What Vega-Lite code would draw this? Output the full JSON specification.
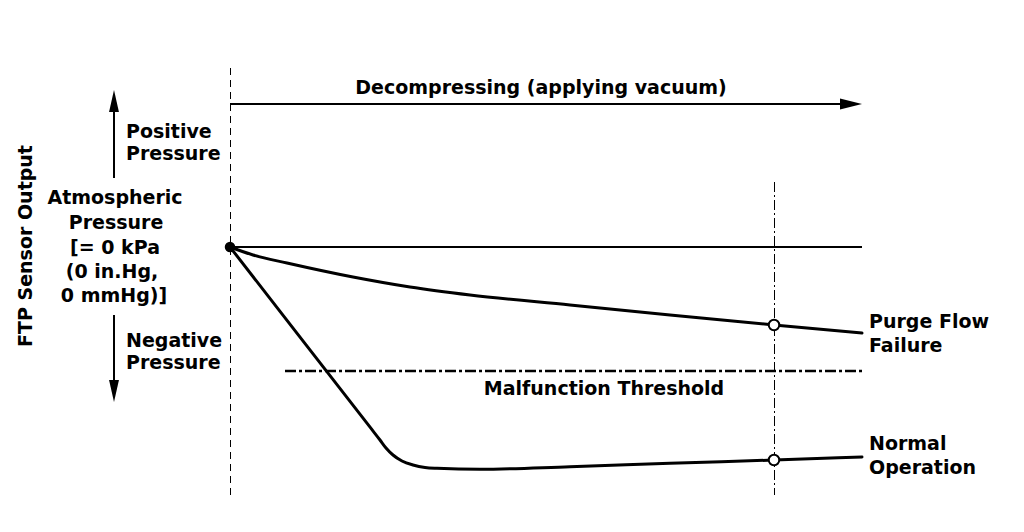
{
  "$schema": "https://vega.github.io/schema/vega-lite/v6.json",
  "width": 1024,
  "height": 532,
  "padding": 0,
  "autosize": {"type": "fit", "contains": "padding"},
  "background": "white",
  "config": {"view": {"stroke": null}},
  "datasets": {
    "curves": [
      {"series": "Purge Flow Failure", "x": 0, "y": 0},
      {"series": "Purge Flow Failure", "x": 2.3, "y": -0.8},
      {"series": "Purge Flow Failure", "x": 5.7, "y": -1.6},
      {"series": "Purge Flow Failure", "x": 12.3, "y": -3.0},
      {"series": "Purge Flow Failure", "x": 18, "y": -4.0},
      {"series": "Purge Flow Failure", "x": 24, "y": -4.8},
      {"series": "Purge Flow Failure", "x": 34, "y": -5.8},
      {"series": "Purge Flow Failure", "x": 44, "y": -6.8},
      {"series": "Purge Flow Failure", "x": 54.4, "y": -7.8},
      {"series": "Purge Flow Failure", "x": 63.2, "y": -8.6},
      {"series": "Normal Operation", "x": 0, "y": 0},
      {"series": "Normal Operation", "x": 5, "y": -6.43},
      {"series": "Normal Operation", "x": 10, "y": -12.87},
      {"series": "Normal Operation", "x": 14.2, "y": -18.27},
      {"series": "Normal Operation", "x": 15, "y": -19.3},
      {"series": "Normal Operation", "x": 15.6, "y": -20.1},
      {"series": "Normal Operation", "x": 16.3, "y": -20.8},
      {"series": "Normal Operation", "x": 17.2, "y": -21.4},
      {"series": "Normal Operation", "x": 18.3, "y": -21.8},
      {"series": "Normal Operation", "x": 19.5, "y": -22.05},
      {"series": "Normal Operation", "x": 20.7, "y": -22.13},
      {"series": "Normal Operation", "x": 25, "y": -22.23},
      {"series": "Normal Operation", "x": 34, "y": -21.97},
      {"series": "Normal Operation", "x": 44, "y": -21.63},
      {"series": "Normal Operation", "x": 54.4, "y": -21.3},
      {"series": "Normal Operation", "x": 63.2, "y": -21.0}
    ],
    "solidRules": [
      {"name": "atmospheric", "x": 0, "x2": 63.2, "y": 0, "y2": 0},
      {"name": "time arrow", "x": 0, "x2": 61, "y": 14.3, "y2": 14.3},
      {"name": "positive arrow", "x": -11.6, "x2": -11.6, "y": 6.9, "y2": 14.0},
      {"name": "negative arrow", "x": -11.6, "x2": -11.6, "y": -6.8, "y2": -14.2}
    ],
    "startRule": [
      {"name": "start", "x": 0.05, "x2": 0.05, "y": 17.9, "y2": -24.8}
    ],
    "checkRule": [
      {"name": "check", "x": 54.45, "x2": 54.45, "y": 6.5, "y2": -24.8}
    ],
    "threshold": [
      {"name": "Malfunction Threshold", "x": 5.5, "x2": 63.2, "y": -12.4, "y2": -12.4}
    ],
    "rightHead": [{"x": 62.1, "y": 14.3}],
    "upHead": [{"x": -11.6, "y": 14.6}],
    "downHead": [{"x": -11.6, "y": -14.4}],
    "startDot": [{"x": 0, "y": 0}],
    "checkDots": [
      {"series": "Purge Flow Failure", "x": 54.4, "y": -7.8},
      {"series": "Normal Operation", "x": 54.4, "y": -21.3}
    ],
    "centerText": [
      {"label": "Decompressing (applying vacuum)", "x": 31.1, "y": 15.9},
      {"label": "Atmospheric", "x": -11.5, "y": 4.9},
      {"label": "Pressure", "x": -11.4, "y": 2.4},
      {"label": "[= 0 kPa", "x": -11.5, "y": -0.1},
      {"label": "(0 in.Hg,", "x": -11.8, "y": -2.5},
      {"label": "0 mmHg)]", "x": -11.6, "y": -4.9},
      {"label": "Malfunction Threshold", "x": 37.4, "y": -14.2}
    ],
    "leftText": [
      {"label": "Positive", "x": -10.4, "y": 11.5},
      {"label": "Pressure", "x": -10.4, "y": 9.3},
      {"label": "Negative", "x": -10.4, "y": -9.4},
      {"label": "Pressure", "x": -10.4, "y": -11.6},
      {"label": "Purge Flow", "x": 63.9, "y": -7.5},
      {"label": "Failure", "x": 63.9, "y": -9.9},
      {"label": "Normal", "x": 63.9, "y": -19.7},
      {"label": "Operation", "x": 63.9, "y": -22.1}
    ],
    "axisTitle": [
      {"label": "FTP Sensor Output", "x": -20.4, "y": 0.1}
    ]
  },
  "encoding": {
    "x": {"field": "x", "type": "quantitative", "axis": null, "scale": {"domain": [-23, 79.4], "nice": false, "zero": false}},
    "y": {"field": "y", "type": "quantitative", "axis": null, "scale": {"domain": [-28.5, 24.7], "nice": false, "zero": false}}
  },
  "layer": [
    {
      "data": {"name": "startRule"},
      "mark": {"type": "rule", "color": "black", "strokeWidth": 1, "strokeDash": [7, 5]},
      "encoding": {"x2": {"field": "x2"}, "y2": {"field": "y2"}}
    },
    {
      "data": {"name": "checkRule"},
      "mark": {"type": "rule", "color": "black", "strokeWidth": 1, "strokeDash": [10, 3, 2, 3]},
      "encoding": {"x2": {"field": "x2"}, "y2": {"field": "y2"}}
    },
    {
      "data": {"name": "threshold"},
      "mark": {"type": "rule", "color": "black", "strokeWidth": 2.5, "strokeDash": [11, 3, 3, 3]},
      "encoding": {"x2": {"field": "x2"}, "y2": {"field": "y2"}}
    },
    {
      "data": {"name": "solidRules"},
      "mark": {"type": "rule", "color": "black", "strokeWidth": 2},
      "encoding": {"x2": {"field": "x2"}, "y2": {"field": "y2"}}
    },
    {
      "data": {"name": "curves"},
      "mark": {"type": "line", "color": "black", "strokeWidth": 3, "strokeJoin": "round", "strokeCap": "round", "interpolate": "monotone"},
      "encoding": {"detail": {"field": "series", "type": "nominal"}, "order": {"field": "x", "type": "quantitative"}}
    },
    {
      "data": {"name": "rightHead"},
      "mark": {"type": "point", "shape": "M-1,-0.5L1,0L-1,0.5Z", "filled": true, "color": "black", "opacity": 1, "size": 484}
    },
    {
      "data": {"name": "upHead"},
      "mark": {"type": "point", "shape": "M-0.45,1L0,-1L0.45,1Z", "filled": true, "color": "black", "opacity": 1, "size": 484}
    },
    {
      "data": {"name": "downHead"},
      "mark": {"type": "point", "shape": "M-0.45,-1L0,1L0.45,-1Z", "filled": true, "color": "black", "opacity": 1, "size": 484}
    },
    {
      "data": {"name": "startDot"},
      "mark": {"type": "point", "shape": "circle", "filled": true, "color": "black", "opacity": 1, "size": 110}
    },
    {
      "data": {"name": "checkDots"},
      "mark": {"type": "point", "shape": "circle", "filled": true, "fill": "white", "stroke": "black", "strokeWidth": 2, "opacity": 1, "size": 110}
    },
    {
      "data": {"name": "centerText"},
      "mark": {"type": "text", "align": "center", "baseline": "middle", "font": "DejaVu Sans", "fontWeight": "bold", "fontSize": 19, "color": "black"},
      "encoding": {"text": {"field": "label", "type": "nominal"}}
    },
    {
      "data": {"name": "leftText"},
      "mark": {"type": "text", "align": "left", "baseline": "middle", "font": "DejaVu Sans", "fontWeight": "bold", "fontSize": 19, "color": "black"},
      "encoding": {"text": {"field": "label", "type": "nominal"}}
    },
    {
      "data": {"name": "axisTitle"},
      "mark": {"type": "text", "align": "center", "baseline": "middle", "angle": 270, "font": "DejaVu Sans", "fontWeight": "bold", "fontSize": 19, "color": "black"},
      "encoding": {"text": {"field": "label", "type": "nominal"}}
    }
  ]
}
